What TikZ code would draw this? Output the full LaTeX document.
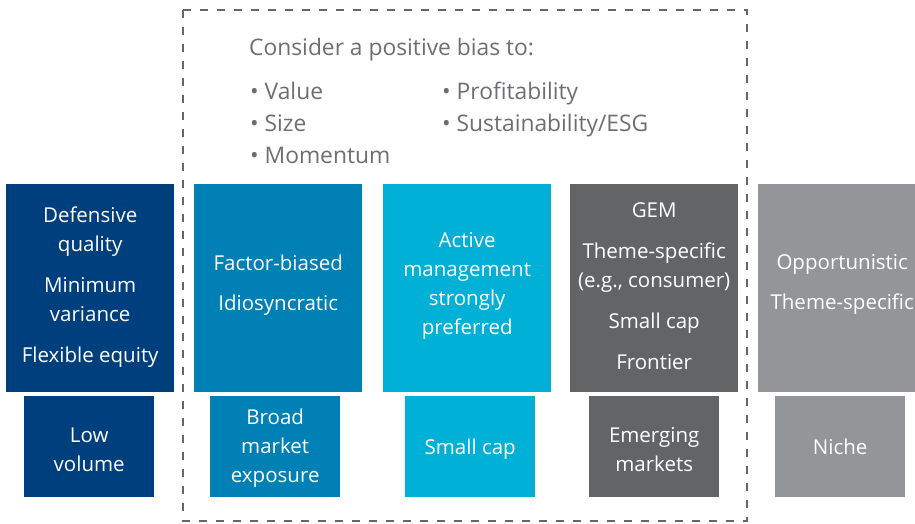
\documentclass[tikz,border=0pt]{standalone}
\usepackage{fontspec}
\setmainfont{Open Sans}
\definecolor{cnavy}{HTML}{003F7E}
\definecolor{cblue}{HTML}{0080B5}
\definecolor{ccyan}{HTML}{00B0D6}
\definecolor{cdgray}{HTML}{636466}
\definecolor{clgray}{HTML}{939598}
\definecolor{cline}{HTML}{666666}
\definecolor{ctext}{HTML}{6D6E71}
\begin{document}
\begin{tikzpicture}[x=1pt,y=-1pt,
  bigbox/.style={fill=#1, draw=none, minimum width=168, minimum height=208, anchor=north west, inner sep=0},
  smallbox/.style={fill=#1, draw=none, minimum width=130, minimum height=101, anchor=north west, inner sep=0},
  lbl/.style={text=white, align=center, font=\fontsize{20.5}{29}\selectfont, inner sep=0},
  toptext/.style={text=ctext, anchor=base west, inner sep=0, font=\fontsize{22.8}{26}\selectfont}]
\useasboundingbox (0,0) rectangle (915,523);
\clip (0,0) rectangle (915,523);
% dashed frame
\draw[cline, line width=1.8pt, dash pattern=on 8pt off 9pt] (183,10) rectangle (747,521);
% top text
\node[toptext] (title) at (249,55) {Consider a positive bias to:};
\node[toptext] (v) at (250,99) {\textbullet\ Value};
\node[toptext] (s) at (250,131) {\textbullet\ Size};
\node[toptext] (m) at (250,163) {\textbullet\ Momentum};
\node[toptext] (p) at (442,99) {\textbullet\ Profitability};
\node[toptext] (e) at (442,131) {\textbullet\ Sustainability/ESG};
% big boxes
\node[bigbox=cnavy] (b1) at (6,184) {};
\node[bigbox=cblue] (b2) at (194,184) {};
\node[bigbox=ccyan] (b3) at (383,184) {};
\node[bigbox=cdgray] (b4) at (570,184) {};
\node[bigbox=clgray] (b5) at (758,184) {};
% small boxes
\node[smallbox=cnavy] (s1) at (24,396) {};
\node[smallbox=cblue] (s2) at (210,396) {};
\node[smallbox=ccyan] (s3) at (405,396) {};
\node[smallbox=cdgray] (s4) at (589,396) {};
\node[smallbox=clgray] (s5) at (775,396) {};
% labels
\node[lbl] (t1) at ([yshift=1pt]b1.center) {Defensive\\quality\\[12pt]Minimum\\variance\\[12pt]Flexible equity};
\node[lbl] (t2) at ([yshift=3.5pt]b2.center) {Factor-biased\\[11pt]Idiosyncratic};
\node[lbl] (t3) at ([yshift=2.5pt]b3.center) {Active\\management\\strongly\\preferred};
\node[lbl] (t4) at ([yshift=2pt]b4.center) {GEM\\[12pt]Theme-specific\\(e.g., consumer)\\[12pt]Small cap\\[12pt]Frontier};
\node[lbl] (t5) at ([yshift=3.5pt]b5.center) {Opportunistic\\[11pt]Theme-specific};
\node[lbl] (u1) at ([yshift=-3pt]s1.center) {Low\\volume};
\node[lbl] (u2) at ([yshift=-1pt]s2.center) {Broad\\market\\exposure};
\node[lbl] (u3) at ([yshift=-2pt]s3.center) {Small cap};
\node[lbl] (u4) at ([yshift=-3pt]s4.center) {Emerging\\markets};
\node[lbl] (u5) at (s5.center) {Niche};
\end{tikzpicture}
\end{document}
